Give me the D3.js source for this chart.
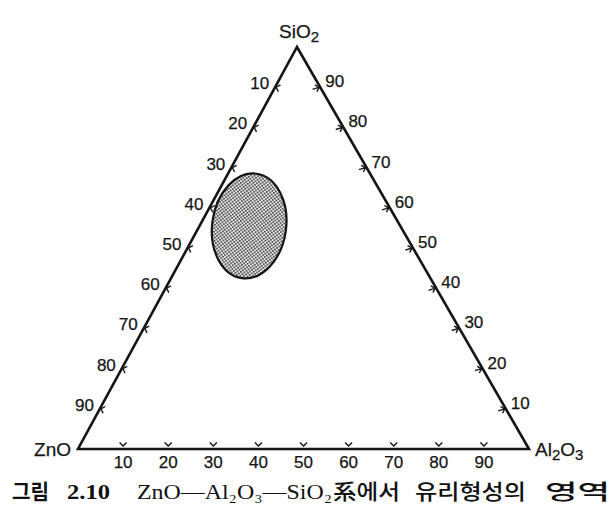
<!DOCTYPE html>
<html><head><meta charset="utf-8">
<script src="https://cdn.jsdelivr.net/npm/d3@7"></script>
<style>
html,body{margin:0;padding:0;background:#fff;}
svg{display:block;}
</style></head>
<body>
<svg id="chart" width="615" height="505"></svg>
<script>
// ---- data ----
const components = ["ZnO", "Al2O3", "SiO2"];
const tickValues = [10, 20, 30, 40, 50, 60, 70, 80, 90];
// glass-forming region: centre composition (mol %) and semi-axes in % units
const regionCenter = { ZnO: 33.5, Al2O3: 11, SiO2: 55.5 };
const regionSemiAxes = { across: 8.2, along: 13.1 }; // % of Al2O3 span, % of SiO2 span
const captionParts = ["그림", "2.10", "ZnO—Al₂O₃—SiO₂", "系에서", "유리형성의", "영역"];

// ---- layout ----
const svg = d3.select("#chart");
const Z = { x: 78, y: 449 }, L = { x: 529, y: 449 }, A = { x: 297, y: 47 };
const xAl = d3.scaleLinear().domain([0, 100]).range([0, L.x - Z.x]);
const xSi = d3.scaleLinear().domain([0, 100]).range([0, A.x - Z.x]);
const ySi = d3.scaleLinear().domain([0, 100]).range([Z.y, A.y]);
function proj(c) { // c: {Al2O3, SiO2}
  return [Z.x + xAl(c.Al2O3) + xSi(c.SiO2), ySi(c.SiO2)];
}
const ink = "#151515";
const font = "'Liberation Sans', Arial, sans-serif";

// stipple pattern
const defs = svg.append("defs");
const ps = 3.6;
const pat = defs.append("pattern").attr("id", "stipple").attr("patternUnits", "userSpaceOnUse")
  .attr("width", ps).attr("height", ps);
pat.append("rect").attr("width", ps).attr("height", ps).attr("fill", "#ececec");
pat.append("rect").attr("x", 0).attr("y", 0).attr("width", 1.6).attr("height", 1.6).attr("fill", "#333");
pat.append("rect").attr("x", ps / 2).attr("y", ps / 2).attr("width", 1.6).attr("height", 1.6).attr("fill", "#333");

// triangle
const verts = [proj({ Al2O3: 0, SiO2: 0 }), proj({ Al2O3: 100, SiO2: 0 }), proj({ Al2O3: 0, SiO2: 100 })];
svg.append("path").attr("d", d3.line()(verts) + "Z")
  .attr("fill", "none").attr("stroke", ink).attr("stroke-width", 2.6).attr("stroke-linejoin", "miter");

// region ellipse
const cen = proj(regionCenter);
const rx = xAl(regionSemiAxes.across), ry = ySi(0) - ySi(regionSemiAxes.along);
svg.append("ellipse").attr("cx", cen[0]).attr("cy", cen[1]).attr("rx", rx).attr("ry", ry)
  .attr("transform", `rotate(8,${cen[0]},${cen[1]})`)
  .attr("fill", "url(#stipple)").attr("stroke", ink).attr("stroke-width", 2.2);

// ticks
function chevron(p, dir, stem) { // tip at p, pointing along dir
  const [dx, dy] = dir, arm = 5, ang = Math.PI / 4;
  const bx = -dx, by = -dy;
  const r = (a) => [bx * Math.cos(a) - by * Math.sin(a), bx * Math.sin(a) + by * Math.cos(a)];
  const a1 = r(ang), a2 = r(-ang);
  let d = `M${p[0] + a1[0] * arm},${p[1] + a1[1] * arm}L${p[0]},${p[1]}L${p[0] + a2[0] * arm},${p[1] + a2[1] * arm}`;
  if (stem) d += `M${p[0]},${p[1]}L${p[0] + bx * stem},${p[1] + by * stem}`;
  return d;
}
const tg = svg.append("g").attr("fill", "none").attr("stroke", ink).attr("stroke-width", 1.4);
const lg = svg.append("g").attr("font-family", font).attr("font-size", 17).attr("fill", ink)
  .attr("stroke", ink).attr("stroke-width", 0.25);

// bottom: Al2O3 %
tickValues.forEach(v => {
  const p = proj({ Al2O3: v, SiO2: 0 });
  tg.append("path").attr("d", chevron([p[0], p[1] - 3], [0, 1], 0));
  lg.append("text").attr("x", p[0]).attr("y", p[1] + 19).attr("text-anchor", "middle").text(v);
});
// left: ZnO %
tickValues.forEach(v => {
  const p = proj({ Al2O3: 0, SiO2: 100 - v });
  tg.append("path").attr("d", chevron([p[0] + 1, p[1]], [-0.95, -0.3], 0));
  lg.append("text").attr("x", p[0] - 6).attr("y", p[1] + 2).attr("text-anchor", "end").text(v);
});
// right: SiO2 %
tickValues.forEach(v => {
  const p = proj({ Al2O3: 100 - v, SiO2: v });
  tg.append("path").attr("d", chevron([p[0] - 1, p[1]], [0.95, -0.3], 7));
  lg.append("text").attr("x", p[0] + 5).attr("y", p[1] - 0).attr("text-anchor", "start").text(v);
});

// vertex labels
function chemLabel(x, y, anchor, parts) {
  const t = svg.append("text").attr("x", x).attr("y", y).attr("text-anchor", anchor)
    .attr("font-family", font).attr("font-size", 19).attr("fill", ink)
    .attr("stroke", ink).attr("stroke-width", 0.25);
  parts.forEach(([s, sub]) => {
    const ts = t.append("tspan").text(s);
    if (sub) ts.attr("font-size", 15).attr("dy", 4); else ts.attr("dy", t.selectAll("tspan").size() > 1 ? -4 : 0);
  });
  return t;
}
chemLabel(verts[0][0] - 7, verts[0][1] + 7, "end", [["ZnO", false]]);
chemLabel(verts[1][0] + 6, verts[1][1] + 7, "start", [["Al", false], ["2", true], ["O", false], ["3", true]]);
chemLabel(verts[2][0] + 2, verts[2][1] - 9, "middle", [["SiO", false], ["2", true]]);

// caption
const cap = svg.append("g").attr("fill", "#111");
const capX = [12, 67, 137, 333, 415, 545];
const capW = [37, 43, 195, 67, 111, 65];
captionParts.forEach((s, i) => {
  const isLatin = i === 1 || i === 2;
  cap.append("text").attr("x", capX[i]).attr("y", 499)
    .attr("font-family", isLatin ? "'Liberation Serif', 'DejaVu Serif', serif" : "'Noto Sans CJK KR', sans-serif")
    .attr("font-weight", i < 2 ? 700 : (isLatin ? 400 : 500))
    .attr("font-size", 21)
    .attr("textLength", capW[i]).attr("lengthAdjust", "spacingAndGlyphs")
    .text(s);
});
</script>
</body></html>
